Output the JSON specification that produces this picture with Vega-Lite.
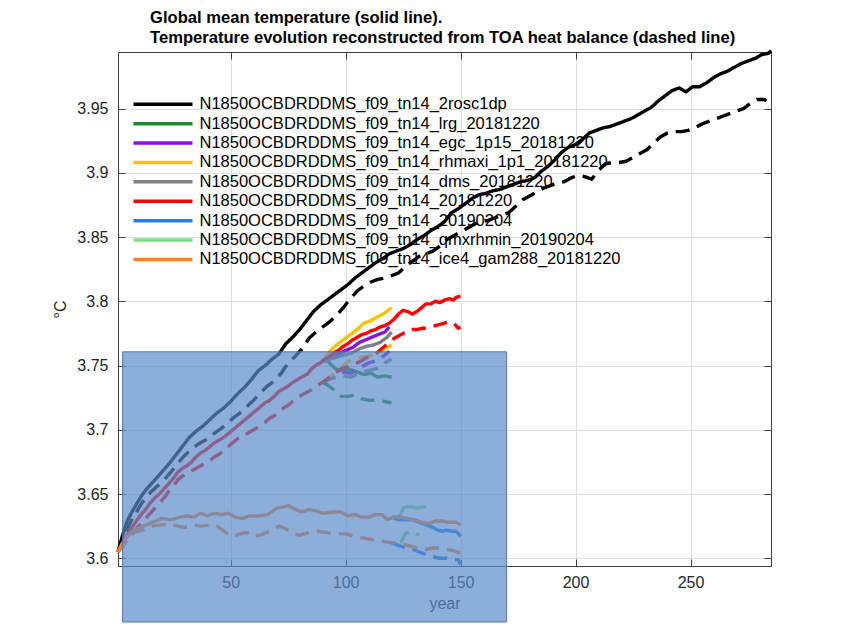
{
  "$schema": "https://vega.github.io/schema/vega-lite/v6.json",
  "autosize": {"type": "none"},
  "width": 653,
  "height": 514,
  "padding": {"left": 118, "top": 52, "right": 70, "bottom": 65},
  "background": "white",
  "title": {
    "text": ["Global mean temperature (solid line).", "Temperature evolution reconstructed from TOA heat balance (dashed line)"],
    "anchor": "start", "frame": "group", "dx": 32, "offset": 2, "fontSize": 16.6, "fontWeight": "bold",
    "font": "Liberation Sans", "color": "#000000", "lineHeight": 20
  },
  "config": {
    "view": {"stroke": null},
    "font": "Liberation Sans",
    "axis": {"labelFont": "Liberation Sans", "titleFont": "Liberation Sans"}
  },
  "datasets": {
    "box": [{"x0": 3.0, "x1": 170.0, "y0": 3.7607, "y1": 3.5504}]
  },
  "data": {"values": [
    {"series":"2rosc1dp","kind":"solid","year":1,"temp":3.605},{"series":"2rosc1dp","kind":"solid","year":3,"temp":3.618},{"series":"2rosc1dp","kind":"solid","year":5,"temp":3.629},{"series":"2rosc1dp","kind":"solid","year":7,"temp":3.636},{"series":"2rosc1dp","kind":"solid","year":9,"temp":3.642},{"series":"2rosc1dp","kind":"solid","year":11,"temp":3.648},{"series":"2rosc1dp","kind":"solid","year":13,"temp":3.653},{"series":"2rosc1dp","kind":"solid","year":15,"temp":3.657},{"series":"2rosc1dp","kind":"solid","year":17,"temp":3.661},{"series":"2rosc1dp","kind":"solid","year":20,"temp":3.667},{"series":"2rosc1dp","kind":"solid","year":23,"temp":3.673},{"series":"2rosc1dp","kind":"solid","year":26,"temp":3.68},{"series":"2rosc1dp","kind":"solid","year":29,"temp":3.687},{"series":"2rosc1dp","kind":"solid","year":32,"temp":3.694},{"series":"2rosc1dp","kind":"solid","year":35,"temp":3.699},{"series":"2rosc1dp","kind":"solid","year":38,"temp":3.703},{"series":"2rosc1dp","kind":"solid","year":41,"temp":3.708},{"series":"2rosc1dp","kind":"solid","year":44,"temp":3.713},{"series":"2rosc1dp","kind":"solid","year":47,"temp":3.717},{"series":"2rosc1dp","kind":"solid","year":50,"temp":3.722},{"series":"2rosc1dp","kind":"solid","year":53,"temp":3.728},{"series":"2rosc1dp","kind":"solid","year":56,"temp":3.733},{"series":"2rosc1dp","kind":"solid","year":59,"temp":3.739},{"series":"2rosc1dp","kind":"solid","year":62,"temp":3.746},{"series":"2rosc1dp","kind":"solid","year":65,"temp":3.75},{"series":"2rosc1dp","kind":"solid","year":68,"temp":3.755},{"series":"2rosc1dp","kind":"solid","year":71,"temp":3.759},{"series":"2rosc1dp","kind":"solid","year":74,"temp":3.767},{"series":"2rosc1dp","kind":"solid","year":77,"temp":3.772},{"series":"2rosc1dp","kind":"solid","year":80,"temp":3.778},{"series":"2rosc1dp","kind":"solid","year":83,"temp":3.785},{"series":"2rosc1dp","kind":"solid","year":86,"temp":3.792},{"series":"2rosc1dp","kind":"solid","year":89,"temp":3.797},{"series":"2rosc1dp","kind":"solid","year":92,"temp":3.801},{"series":"2rosc1dp","kind":"solid","year":95,"temp":3.805},{"series":"2rosc1dp","kind":"solid","year":98,"temp":3.809},{"series":"2rosc1dp","kind":"solid","year":101,"temp":3.813},{"series":"2rosc1dp","kind":"solid","year":104,"temp":3.818},{"series":"2rosc1dp","kind":"solid","year":107,"temp":3.822},{"series":"2rosc1dp","kind":"solid","year":110,"temp":3.826},{"series":"2rosc1dp","kind":"solid","year":113,"temp":3.83},{"series":"2rosc1dp","kind":"solid","year":116,"temp":3.833},{"series":"2rosc1dp","kind":"solid","year":119,"temp":3.837},{"series":"2rosc1dp","kind":"solid","year":122,"temp":3.839},{"series":"2rosc1dp","kind":"solid","year":125,"temp":3.841},{"series":"2rosc1dp","kind":"solid","year":128,"temp":3.844},{"series":"2rosc1dp","kind":"solid","year":131,"temp":3.848},{"series":"2rosc1dp","kind":"solid","year":134,"temp":3.851},{"series":"2rosc1dp","kind":"solid","year":137,"temp":3.855},{"series":"2rosc1dp","kind":"solid","year":140,"temp":3.858},{"series":"2rosc1dp","kind":"solid","year":143,"temp":3.862},{"series":"2rosc1dp","kind":"solid","year":146,"temp":3.869},{"series":"2rosc1dp","kind":"solid","year":149,"temp":3.872},{"series":"2rosc1dp","kind":"solid","year":152,"temp":3.876},{"series":"2rosc1dp","kind":"solid","year":155,"temp":3.88},{"series":"2rosc1dp","kind":"solid","year":158,"temp":3.883},{"series":"2rosc1dp","kind":"solid","year":161,"temp":3.884},{"series":"2rosc1dp","kind":"solid","year":164,"temp":3.886},{"series":"2rosc1dp","kind":"solid","year":167,"temp":3.887},{"series":"2rosc1dp","kind":"solid","year":170,"temp":3.889},{"series":"2rosc1dp","kind":"solid","year":173,"temp":3.891},{"series":"2rosc1dp","kind":"solid","year":176,"temp":3.893},{"series":"2rosc1dp","kind":"solid","year":179,"temp":3.894},{"series":"2rosc1dp","kind":"solid","year":182,"temp":3.896},{"series":"2rosc1dp","kind":"solid","year":185,"temp":3.901},{"series":"2rosc1dp","kind":"solid","year":188,"temp":3.905},{"series":"2rosc1dp","kind":"solid","year":191,"temp":3.91},{"series":"2rosc1dp","kind":"solid","year":194,"temp":3.916},{"series":"2rosc1dp","kind":"solid","year":197,"temp":3.92},{"series":"2rosc1dp","kind":"solid","year":200,"temp":3.922},{"series":"2rosc1dp","kind":"solid","year":203,"temp":3.926},{"series":"2rosc1dp","kind":"solid","year":206,"temp":3.931},{"series":"2rosc1dp","kind":"solid","year":209,"temp":3.933},{"series":"2rosc1dp","kind":"solid","year":212,"temp":3.935},{"series":"2rosc1dp","kind":"solid","year":215,"temp":3.936},{"series":"2rosc1dp","kind":"solid","year":218,"temp":3.938},{"series":"2rosc1dp","kind":"solid","year":221,"temp":3.94},{"series":"2rosc1dp","kind":"solid","year":224,"temp":3.942},{"series":"2rosc1dp","kind":"solid","year":227,"temp":3.945},{"series":"2rosc1dp","kind":"solid","year":230,"temp":3.948},{"series":"2rosc1dp","kind":"solid","year":233,"temp":3.951},{"series":"2rosc1dp","kind":"solid","year":236,"temp":3.956},{"series":"2rosc1dp","kind":"solid","year":239,"temp":3.96},{"series":"2rosc1dp","kind":"solid","year":242,"temp":3.964},{"series":"2rosc1dp","kind":"solid","year":245,"temp":3.966},{"series":"2rosc1dp","kind":"solid","year":248,"temp":3.963},{"series":"2rosc1dp","kind":"solid","year":251,"temp":3.967},{"series":"2rosc1dp","kind":"solid","year":254,"temp":3.967},{"series":"2rosc1dp","kind":"solid","year":257,"temp":3.97},{"series":"2rosc1dp","kind":"solid","year":260,"temp":3.974},{"series":"2rosc1dp","kind":"solid","year":263,"temp":3.977},{"series":"2rosc1dp","kind":"solid","year":266,"temp":3.979},{"series":"2rosc1dp","kind":"solid","year":269,"temp":3.982},{"series":"2rosc1dp","kind":"solid","year":272,"temp":3.985},{"series":"2rosc1dp","kind":"solid","year":275,"temp":3.987},{"series":"2rosc1dp","kind":"solid","year":278,"temp":3.989},{"series":"2rosc1dp","kind":"solid","year":281,"temp":3.992},{"series":"2rosc1dp","kind":"solid","year":284,"temp":3.993},{"series":"2rosc1dp","kind":"solid","year":285,"temp":3.995},
    {"series":"2rosc1dp","kind":"dashed","year":1,"temp":3.605},{"series":"2rosc1dp","kind":"dashed","year":3,"temp":3.614},{"series":"2rosc1dp","kind":"dashed","year":5,"temp":3.623},{"series":"2rosc1dp","kind":"dashed","year":7,"temp":3.63},{"series":"2rosc1dp","kind":"dashed","year":9,"temp":3.636},{"series":"2rosc1dp","kind":"dashed","year":11,"temp":3.642},{"series":"2rosc1dp","kind":"dashed","year":13,"temp":3.647},{"series":"2rosc1dp","kind":"dashed","year":15,"temp":3.651},{"series":"2rosc1dp","kind":"dashed","year":18,"temp":3.656},{"series":"2rosc1dp","kind":"dashed","year":21,"temp":3.661},{"series":"2rosc1dp","kind":"dashed","year":24,"temp":3.667},{"series":"2rosc1dp","kind":"dashed","year":27,"temp":3.674},{"series":"2rosc1dp","kind":"dashed","year":30,"temp":3.68},{"series":"2rosc1dp","kind":"dashed","year":33,"temp":3.685},{"series":"2rosc1dp","kind":"dashed","year":36,"temp":3.689},{"series":"2rosc1dp","kind":"dashed","year":39,"temp":3.692},{"series":"2rosc1dp","kind":"dashed","year":42,"temp":3.696},{"series":"2rosc1dp","kind":"dashed","year":45,"temp":3.7},{"series":"2rosc1dp","kind":"dashed","year":48,"temp":3.704},{"series":"2rosc1dp","kind":"dashed","year":51,"temp":3.709},{"series":"2rosc1dp","kind":"dashed","year":54,"temp":3.713},{"series":"2rosc1dp","kind":"dashed","year":57,"temp":3.718},{"series":"2rosc1dp","kind":"dashed","year":60,"temp":3.723},{"series":"2rosc1dp","kind":"dashed","year":63,"temp":3.729},{"series":"2rosc1dp","kind":"dashed","year":66,"temp":3.734},{"series":"2rosc1dp","kind":"dashed","year":69,"temp":3.738},{"series":"2rosc1dp","kind":"dashed","year":72,"temp":3.744},{"series":"2rosc1dp","kind":"dashed","year":75,"temp":3.752},{"series":"2rosc1dp","kind":"dashed","year":78,"temp":3.757},{"series":"2rosc1dp","kind":"dashed","year":81,"temp":3.763},{"series":"2rosc1dp","kind":"dashed","year":84,"temp":3.771},{"series":"2rosc1dp","kind":"dashed","year":87,"temp":3.776},{"series":"2rosc1dp","kind":"dashed","year":90,"temp":3.78},{"series":"2rosc1dp","kind":"dashed","year":93,"temp":3.784},{"series":"2rosc1dp","kind":"dashed","year":96,"temp":3.789},{"series":"2rosc1dp","kind":"dashed","year":99,"temp":3.795},{"series":"2rosc1dp","kind":"dashed","year":102,"temp":3.802},{"series":"2rosc1dp","kind":"dashed","year":105,"temp":3.808},{"series":"2rosc1dp","kind":"dashed","year":108,"temp":3.812},{"series":"2rosc1dp","kind":"dashed","year":111,"temp":3.815},{"series":"2rosc1dp","kind":"dashed","year":114,"temp":3.817},{"series":"2rosc1dp","kind":"dashed","year":117,"temp":3.818},{"series":"2rosc1dp","kind":"dashed","year":120,"temp":3.82},{"series":"2rosc1dp","kind":"dashed","year":123,"temp":3.822},{"series":"2rosc1dp","kind":"dashed","year":126,"temp":3.827},{"series":"2rosc1dp","kind":"dashed","year":129,"temp":3.831},{"series":"2rosc1dp","kind":"dashed","year":132,"temp":3.835},{"series":"2rosc1dp","kind":"dashed","year":135,"temp":3.837},{"series":"2rosc1dp","kind":"dashed","year":138,"temp":3.839},{"series":"2rosc1dp","kind":"dashed","year":141,"temp":3.843},{"series":"2rosc1dp","kind":"dashed","year":144,"temp":3.848},{"series":"2rosc1dp","kind":"dashed","year":147,"temp":3.851},{"series":"2rosc1dp","kind":"dashed","year":150,"temp":3.854},{"series":"2rosc1dp","kind":"dashed","year":153,"temp":3.857},{"series":"2rosc1dp","kind":"dashed","year":156,"temp":3.86},{"series":"2rosc1dp","kind":"dashed","year":159,"temp":3.862},{"series":"2rosc1dp","kind":"dashed","year":162,"temp":3.863},{"series":"2rosc1dp","kind":"dashed","year":165,"temp":3.865},{"series":"2rosc1dp","kind":"dashed","year":168,"temp":3.867},{"series":"2rosc1dp","kind":"dashed","year":171,"temp":3.869},{"series":"2rosc1dp","kind":"dashed","year":174,"temp":3.874},{"series":"2rosc1dp","kind":"dashed","year":177,"temp":3.879},{"series":"2rosc1dp","kind":"dashed","year":180,"temp":3.882},{"series":"2rosc1dp","kind":"dashed","year":183,"temp":3.885},{"series":"2rosc1dp","kind":"dashed","year":186,"temp":3.888},{"series":"2rosc1dp","kind":"dashed","year":189,"temp":3.89},{"series":"2rosc1dp","kind":"dashed","year":192,"temp":3.892},{"series":"2rosc1dp","kind":"dashed","year":195,"temp":3.893},{"series":"2rosc1dp","kind":"dashed","year":198,"temp":3.896},{"series":"2rosc1dp","kind":"dashed","year":201,"temp":3.898},{"series":"2rosc1dp","kind":"dashed","year":204,"temp":3.897},{"series":"2rosc1dp","kind":"dashed","year":207,"temp":3.895},{"series":"2rosc1dp","kind":"dashed","year":210,"temp":3.902},{"series":"2rosc1dp","kind":"dashed","year":213,"temp":3.907},{"series":"2rosc1dp","kind":"dashed","year":216,"temp":3.908},{"series":"2rosc1dp","kind":"dashed","year":219,"temp":3.908},{"series":"2rosc1dp","kind":"dashed","year":222,"temp":3.909},{"series":"2rosc1dp","kind":"dashed","year":225,"temp":3.912},{"series":"2rosc1dp","kind":"dashed","year":228,"temp":3.915},{"series":"2rosc1dp","kind":"dashed","year":231,"temp":3.918},{"series":"2rosc1dp","kind":"dashed","year":234,"temp":3.923},{"series":"2rosc1dp","kind":"dashed","year":237,"temp":3.928},{"series":"2rosc1dp","kind":"dashed","year":240,"temp":3.931},{"series":"2rosc1dp","kind":"dashed","year":243,"temp":3.932},{"series":"2rosc1dp","kind":"dashed","year":246,"temp":3.932},{"series":"2rosc1dp","kind":"dashed","year":249,"temp":3.933},{"series":"2rosc1dp","kind":"dashed","year":252,"temp":3.935},{"series":"2rosc1dp","kind":"dashed","year":255,"temp":3.938},{"series":"2rosc1dp","kind":"dashed","year":258,"temp":3.94},{"series":"2rosc1dp","kind":"dashed","year":261,"temp":3.942},{"series":"2rosc1dp","kind":"dashed","year":264,"temp":3.944},{"series":"2rosc1dp","kind":"dashed","year":267,"temp":3.946},{"series":"2rosc1dp","kind":"dashed","year":270,"temp":3.948},{"series":"2rosc1dp","kind":"dashed","year":273,"temp":3.95},{"series":"2rosc1dp","kind":"dashed","year":276,"temp":3.954},{"series":"2rosc1dp","kind":"dashed","year":279,"temp":3.957},{"series":"2rosc1dp","kind":"dashed","year":282,"temp":3.957},{"series":"2rosc1dp","kind":"dashed","year":283,"temp":3.956},
    {"series":"lrg_20181220","kind":"solid","year":90,"temp":3.753},{"series":"lrg_20181220","kind":"solid","year":92,"temp":3.754},{"series":"lrg_20181220","kind":"solid","year":94,"temp":3.75},{"series":"lrg_20181220","kind":"solid","year":96,"temp":3.747},{"series":"lrg_20181220","kind":"solid","year":99,"temp":3.746},{"series":"lrg_20181220","kind":"solid","year":102,"temp":3.747},{"series":"lrg_20181220","kind":"solid","year":105,"temp":3.745},{"series":"lrg_20181220","kind":"solid","year":108,"temp":3.743},{"series":"lrg_20181220","kind":"solid","year":111,"temp":3.744},{"series":"lrg_20181220","kind":"solid","year":114,"temp":3.741},{"series":"lrg_20181220","kind":"solid","year":117,"temp":3.742},{"series":"lrg_20181220","kind":"solid","year":120,"temp":3.741},
    {"series":"lrg_20181220","kind":"dashed","year":90,"temp":3.737},{"series":"lrg_20181220","kind":"dashed","year":92,"temp":3.735},{"series":"lrg_20181220","kind":"dashed","year":95,"temp":3.731},{"series":"lrg_20181220","kind":"dashed","year":98,"temp":3.726},{"series":"lrg_20181220","kind":"dashed","year":101,"temp":3.726},{"series":"lrg_20181220","kind":"dashed","year":104,"temp":3.727},{"series":"lrg_20181220","kind":"dashed","year":107,"temp":3.724},{"series":"lrg_20181220","kind":"dashed","year":110,"temp":3.723},{"series":"lrg_20181220","kind":"dashed","year":114,"temp":3.723},{"series":"lrg_20181220","kind":"dashed","year":117,"temp":3.722},{"series":"lrg_20181220","kind":"dashed","year":120,"temp":3.721},
    {"series":"egc_1p15_20181220","kind":"solid","year":90,"temp":3.753},{"series":"egc_1p15_20181220","kind":"solid","year":95,"temp":3.757},{"series":"egc_1p15_20181220","kind":"solid","year":99,"temp":3.761},{"series":"egc_1p15_20181220","kind":"solid","year":103,"temp":3.764},{"series":"egc_1p15_20181220","kind":"solid","year":106,"temp":3.768},{"series":"egc_1p15_20181220","kind":"solid","year":110,"temp":3.771},{"series":"egc_1p15_20181220","kind":"solid","year":114,"temp":3.774},{"series":"egc_1p15_20181220","kind":"solid","year":117,"temp":3.776},{"series":"egc_1p15_20181220","kind":"solid","year":119,"temp":3.78},
    {"series":"egc_1p15_20181220","kind":"dashed","year":90,"temp":3.737},{"series":"egc_1p15_20181220","kind":"dashed","year":94,"temp":3.741},{"series":"egc_1p15_20181220","kind":"dashed","year":98,"temp":3.745},{"series":"egc_1p15_20181220","kind":"dashed","year":102,"temp":3.744},{"series":"egc_1p15_20181220","kind":"dashed","year":106,"temp":3.748},{"series":"egc_1p15_20181220","kind":"dashed","year":110,"temp":3.752},{"series":"egc_1p15_20181220","kind":"dashed","year":114,"temp":3.754},{"series":"egc_1p15_20181220","kind":"dashed","year":117,"temp":3.758},{"series":"egc_1p15_20181220","kind":"dashed","year":119,"temp":3.761},
    {"series":"rhmaxi_1p1_20181220","kind":"solid","year":90,"temp":3.753},{"series":"rhmaxi_1p1_20181220","kind":"solid","year":93,"temp":3.761},{"series":"rhmaxi_1p1_20181220","kind":"solid","year":96,"temp":3.766},{"series":"rhmaxi_1p1_20181220","kind":"solid","year":99,"temp":3.77},{"series":"rhmaxi_1p1_20181220","kind":"solid","year":102,"temp":3.774},{"series":"rhmaxi_1p1_20181220","kind":"solid","year":105,"temp":3.778},{"series":"rhmaxi_1p1_20181220","kind":"solid","year":108,"temp":3.783},{"series":"rhmaxi_1p1_20181220","kind":"solid","year":111,"temp":3.785},{"series":"rhmaxi_1p1_20181220","kind":"solid","year":114,"temp":3.788},{"series":"rhmaxi_1p1_20181220","kind":"solid","year":117,"temp":3.791},{"series":"rhmaxi_1p1_20181220","kind":"solid","year":120,"temp":3.795},
    {"series":"rhmaxi_1p1_20181220","kind":"dashed","year":90,"temp":3.737},{"series":"rhmaxi_1p1_20181220","kind":"dashed","year":94,"temp":3.742},{"series":"rhmaxi_1p1_20181220","kind":"dashed","year":98,"temp":3.748},{"series":"rhmaxi_1p1_20181220","kind":"dashed","year":101,"temp":3.753},{"series":"rhmaxi_1p1_20181220","kind":"dashed","year":105,"temp":3.756},{"series":"rhmaxi_1p1_20181220","kind":"dashed","year":109,"temp":3.757},{"series":"rhmaxi_1p1_20181220","kind":"dashed","year":113,"temp":3.759},{"series":"rhmaxi_1p1_20181220","kind":"dashed","year":117,"temp":3.763},{"series":"rhmaxi_1p1_20181220","kind":"dashed","year":120,"temp":3.766},
    {"series":"dms_20181220","kind":"solid","year":90,"temp":3.753},{"series":"dms_20181220","kind":"solid","year":95,"temp":3.756},{"series":"dms_20181220","kind":"solid","year":99,"temp":3.758},{"series":"dms_20181220","kind":"solid","year":103,"temp":3.76},{"series":"dms_20181220","kind":"solid","year":106,"temp":3.763},{"series":"dms_20181220","kind":"solid","year":109,"temp":3.765},{"series":"dms_20181220","kind":"solid","year":112,"temp":3.766},{"series":"dms_20181220","kind":"solid","year":115,"temp":3.768},{"series":"dms_20181220","kind":"solid","year":118,"temp":3.772},{"series":"dms_20181220","kind":"solid","year":120,"temp":3.776},
    {"series":"dms_20181220","kind":"dashed","year":90,"temp":3.737},{"series":"dms_20181220","kind":"dashed","year":94,"temp":3.74},{"series":"dms_20181220","kind":"dashed","year":98,"temp":3.742},{"series":"dms_20181220","kind":"dashed","year":102,"temp":3.741},{"series":"dms_20181220","kind":"dashed","year":106,"temp":3.744},{"series":"dms_20181220","kind":"dashed","year":110,"temp":3.746},{"series":"dms_20181220","kind":"dashed","year":114,"temp":3.748},{"series":"dms_20181220","kind":"dashed","year":117,"temp":3.752},{"series":"dms_20181220","kind":"dashed","year":120,"temp":3.755},
    {"series":"20181220","kind":"solid","year":1,"temp":3.605},{"series":"20181220","kind":"solid","year":3,"temp":3.612},{"series":"20181220","kind":"solid","year":5,"temp":3.618},{"series":"20181220","kind":"solid","year":7,"temp":3.624},{"series":"20181220","kind":"solid","year":9,"temp":3.629},{"series":"20181220","kind":"solid","year":11,"temp":3.634},{"series":"20181220","kind":"solid","year":13,"temp":3.638},{"series":"20181220","kind":"solid","year":15,"temp":3.643},{"series":"20181220","kind":"solid","year":17,"temp":3.647},{"series":"20181220","kind":"solid","year":19,"temp":3.65},{"series":"20181220","kind":"solid","year":21,"temp":3.654},{"series":"20181220","kind":"solid","year":23,"temp":3.658},{"series":"20181220","kind":"solid","year":25,"temp":3.662},{"series":"20181220","kind":"solid","year":27,"temp":3.667},{"series":"20181220","kind":"solid","year":29,"temp":3.67},{"series":"20181220","kind":"solid","year":31,"temp":3.672},{"series":"20181220","kind":"solid","year":33,"temp":3.675},{"series":"20181220","kind":"solid","year":35,"temp":3.679},{"series":"20181220","kind":"solid","year":37,"temp":3.682},{"series":"20181220","kind":"solid","year":39,"temp":3.684},{"series":"20181220","kind":"solid","year":41,"temp":3.687},{"series":"20181220","kind":"solid","year":43,"temp":3.69},{"series":"20181220","kind":"solid","year":45,"temp":3.692},{"series":"20181220","kind":"solid","year":47,"temp":3.694},{"series":"20181220","kind":"solid","year":49,"temp":3.697},{"series":"20181220","kind":"solid","year":51,"temp":3.7},{"series":"20181220","kind":"solid","year":53,"temp":3.703},{"series":"20181220","kind":"solid","year":55,"temp":3.706},{"series":"20181220","kind":"solid","year":57,"temp":3.709},{"series":"20181220","kind":"solid","year":59,"temp":3.712},{"series":"20181220","kind":"solid","year":61,"temp":3.715},{"series":"20181220","kind":"solid","year":63,"temp":3.718},{"series":"20181220","kind":"solid","year":65,"temp":3.721},{"series":"20181220","kind":"solid","year":67,"temp":3.723},{"series":"20181220","kind":"solid","year":69,"temp":3.726},{"series":"20181220","kind":"solid","year":71,"temp":3.73},{"series":"20181220","kind":"solid","year":73,"temp":3.732},{"series":"20181220","kind":"solid","year":75,"temp":3.734},{"series":"20181220","kind":"solid","year":77,"temp":3.737},{"series":"20181220","kind":"solid","year":79,"temp":3.739},{"series":"20181220","kind":"solid","year":81,"temp":3.741},{"series":"20181220","kind":"solid","year":83,"temp":3.743},{"series":"20181220","kind":"solid","year":85,"temp":3.747},{"series":"20181220","kind":"solid","year":87,"temp":3.75},{"series":"20181220","kind":"solid","year":89,"temp":3.752},{"series":"20181220","kind":"solid","year":91,"temp":3.755},{"series":"20181220","kind":"solid","year":93,"temp":3.757},{"series":"20181220","kind":"solid","year":95,"temp":3.76},{"series":"20181220","kind":"solid","year":97,"temp":3.762},{"series":"20181220","kind":"solid","year":99,"temp":3.765},{"series":"20181220","kind":"solid","year":101,"temp":3.767},{"series":"20181220","kind":"solid","year":103,"temp":3.77},{"series":"20181220","kind":"solid","year":105,"temp":3.772},{"series":"20181220","kind":"solid","year":107,"temp":3.774},{"series":"20181220","kind":"solid","year":109,"temp":3.775},{"series":"20181220","kind":"solid","year":111,"temp":3.777},{"series":"20181220","kind":"solid","year":113,"temp":3.778},{"series":"20181220","kind":"solid","year":115,"temp":3.78},{"series":"20181220","kind":"solid","year":117,"temp":3.781},{"series":"20181220","kind":"solid","year":119,"temp":3.783},{"series":"20181220","kind":"solid","year":121,"temp":3.786},{"series":"20181220","kind":"solid","year":123,"temp":3.79},{"series":"20181220","kind":"solid","year":125,"temp":3.793},{"series":"20181220","kind":"solid","year":127,"temp":3.792},{"series":"20181220","kind":"solid","year":129,"temp":3.79},{"series":"20181220","kind":"solid","year":131,"temp":3.792},{"series":"20181220","kind":"solid","year":133,"temp":3.795},{"series":"20181220","kind":"solid","year":135,"temp":3.798},{"series":"20181220","kind":"solid","year":137,"temp":3.798},{"series":"20181220","kind":"solid","year":139,"temp":3.8},{"series":"20181220","kind":"solid","year":141,"temp":3.799},{"series":"20181220","kind":"solid","year":143,"temp":3.801},{"series":"20181220","kind":"solid","year":145,"temp":3.802},{"series":"20181220","kind":"solid","year":147,"temp":3.801},{"series":"20181220","kind":"solid","year":148,"temp":3.803},{"series":"20181220","kind":"solid","year":150,"temp":3.804},
    {"series":"20181220","kind":"dashed","year":1,"temp":3.605},{"series":"20181220","kind":"dashed","year":3,"temp":3.61},{"series":"20181220","kind":"dashed","year":5,"temp":3.614},{"series":"20181220","kind":"dashed","year":7,"temp":3.619},{"series":"20181220","kind":"dashed","year":9,"temp":3.623},{"series":"20181220","kind":"dashed","year":11,"temp":3.627},{"series":"20181220","kind":"dashed","year":13,"temp":3.631},{"series":"20181220","kind":"dashed","year":15,"temp":3.635},{"series":"20181220","kind":"dashed","year":17,"temp":3.639},{"series":"20181220","kind":"dashed","year":19,"temp":3.643},{"series":"20181220","kind":"dashed","year":21,"temp":3.647},{"series":"20181220","kind":"dashed","year":23,"temp":3.652},{"series":"20181220","kind":"dashed","year":25,"temp":3.656},{"series":"20181220","kind":"dashed","year":27,"temp":3.661},{"series":"20181220","kind":"dashed","year":29,"temp":3.664},{"series":"20181220","kind":"dashed","year":31,"temp":3.666},{"series":"20181220","kind":"dashed","year":33,"temp":3.668},{"series":"20181220","kind":"dashed","year":35,"temp":3.67},{"series":"20181220","kind":"dashed","year":37,"temp":3.672},{"series":"20181220","kind":"dashed","year":39,"temp":3.674},{"series":"20181220","kind":"dashed","year":41,"temp":3.676},{"series":"20181220","kind":"dashed","year":43,"temp":3.679},{"series":"20181220","kind":"dashed","year":45,"temp":3.681},{"series":"20181220","kind":"dashed","year":47,"temp":3.684},{"series":"20181220","kind":"dashed","year":49,"temp":3.687},{"series":"20181220","kind":"dashed","year":51,"temp":3.69},{"series":"20181220","kind":"dashed","year":53,"temp":3.693},{"series":"20181220","kind":"dashed","year":55,"temp":3.695},{"series":"20181220","kind":"dashed","year":57,"temp":3.697},{"series":"20181220","kind":"dashed","year":59,"temp":3.699},{"series":"20181220","kind":"dashed","year":61,"temp":3.701},{"series":"20181220","kind":"dashed","year":63,"temp":3.704},{"series":"20181220","kind":"dashed","year":65,"temp":3.706},{"series":"20181220","kind":"dashed","year":67,"temp":3.709},{"series":"20181220","kind":"dashed","year":69,"temp":3.711},{"series":"20181220","kind":"dashed","year":71,"temp":3.714},{"series":"20181220","kind":"dashed","year":73,"temp":3.717},{"series":"20181220","kind":"dashed","year":75,"temp":3.719},{"series":"20181220","kind":"dashed","year":77,"temp":3.722},{"series":"20181220","kind":"dashed","year":79,"temp":3.725},{"series":"20181220","kind":"dashed","year":81,"temp":3.727},{"series":"20181220","kind":"dashed","year":83,"temp":3.729},{"series":"20181220","kind":"dashed","year":85,"temp":3.731},{"series":"20181220","kind":"dashed","year":87,"temp":3.733},{"series":"20181220","kind":"dashed","year":89,"temp":3.736},{"series":"20181220","kind":"dashed","year":91,"temp":3.738},{"series":"20181220","kind":"dashed","year":93,"temp":3.741},{"series":"20181220","kind":"dashed","year":95,"temp":3.744},{"series":"20181220","kind":"dashed","year":97,"temp":3.746},{"series":"20181220","kind":"dashed","year":99,"temp":3.748},{"series":"20181220","kind":"dashed","year":101,"temp":3.749},{"series":"20181220","kind":"dashed","year":103,"temp":3.751},{"series":"20181220","kind":"dashed","year":105,"temp":3.752},{"series":"20181220","kind":"dashed","year":107,"temp":3.754},{"series":"20181220","kind":"dashed","year":109,"temp":3.756},{"series":"20181220","kind":"dashed","year":111,"temp":3.757},{"series":"20181220","kind":"dashed","year":113,"temp":3.759},{"series":"20181220","kind":"dashed","year":115,"temp":3.762},{"series":"20181220","kind":"dashed","year":117,"temp":3.765},{"series":"20181220","kind":"dashed","year":119,"temp":3.768},{"series":"20181220","kind":"dashed","year":121,"temp":3.771},{"series":"20181220","kind":"dashed","year":123,"temp":3.773},{"series":"20181220","kind":"dashed","year":125,"temp":3.775},{"series":"20181220","kind":"dashed","year":127,"temp":3.776},{"series":"20181220","kind":"dashed","year":129,"temp":3.778},{"series":"20181220","kind":"dashed","year":131,"temp":3.778},{"series":"20181220","kind":"dashed","year":133,"temp":3.779},{"series":"20181220","kind":"dashed","year":135,"temp":3.779},{"series":"20181220","kind":"dashed","year":137,"temp":3.78},{"series":"20181220","kind":"dashed","year":139,"temp":3.781},{"series":"20181220","kind":"dashed","year":141,"temp":3.782},{"series":"20181220","kind":"dashed","year":143,"temp":3.783},{"series":"20181220","kind":"dashed","year":145,"temp":3.784},{"series":"20181220","kind":"dashed","year":147,"temp":3.783},{"series":"20181220","kind":"dashed","year":149,"temp":3.779},{"series":"20181220","kind":"dashed","year":150,"temp":3.78},
    {"series":"20190204","kind":"solid","year":120,"temp":3.632},{"series":"20190204","kind":"solid","year":123,"temp":3.63},{"series":"20190204","kind":"solid","year":126,"temp":3.63},{"series":"20190204","kind":"solid","year":129,"temp":3.63},{"series":"20190204","kind":"solid","year":132,"temp":3.628},{"series":"20190204","kind":"solid","year":135,"temp":3.626},{"series":"20190204","kind":"solid","year":138,"temp":3.624},{"series":"20190204","kind":"solid","year":140,"temp":3.622},{"series":"20190204","kind":"solid","year":142,"temp":3.621},{"series":"20190204","kind":"solid","year":144,"temp":3.622},{"series":"20190204","kind":"solid","year":146,"temp":3.621},{"series":"20190204","kind":"solid","year":148,"temp":3.621},{"series":"20190204","kind":"solid","year":150,"temp":3.617},
    {"series":"20190204","kind":"dashed","year":120,"temp":3.612},{"series":"20190204","kind":"dashed","year":123,"temp":3.61},{"series":"20190204","kind":"dashed","year":126,"temp":3.608},{"series":"20190204","kind":"dashed","year":129,"temp":3.607},{"series":"20190204","kind":"dashed","year":132,"temp":3.605},{"series":"20190204","kind":"dashed","year":135,"temp":3.603},{"series":"20190204","kind":"dashed","year":138,"temp":3.601},{"series":"20190204","kind":"dashed","year":141,"temp":3.6},{"series":"20190204","kind":"dashed","year":144,"temp":3.6},{"series":"20190204","kind":"dashed","year":147,"temp":3.599},{"series":"20190204","kind":"dashed","year":149,"temp":3.599},{"series":"20190204","kind":"dashed","year":150,"temp":3.595},
    {"series":"qmxrhmin_20190204","kind":"solid","year":122,"temp":3.632},{"series":"qmxrhmin_20190204","kind":"solid","year":124,"temp":3.634},{"series":"qmxrhmin_20190204","kind":"solid","year":125,"temp":3.639},{"series":"qmxrhmin_20190204","kind":"solid","year":127,"temp":3.64},{"series":"qmxrhmin_20190204","kind":"solid","year":129,"temp":3.64},{"series":"qmxrhmin_20190204","kind":"solid","year":131,"temp":3.639},{"series":"qmxrhmin_20190204","kind":"solid","year":133,"temp":3.64},{"series":"qmxrhmin_20190204","kind":"solid","year":135,"temp":3.64},
    {"series":"qmxrhmin_20190204","kind":"dashed","year":124,"temp":3.612},{"series":"qmxrhmin_20190204","kind":"dashed","year":126,"temp":3.619},{"series":"qmxrhmin_20190204","kind":"dashed","year":128,"temp":3.621},{"series":"qmxrhmin_20190204","kind":"dashed","year":130,"temp":3.62},{"series":"qmxrhmin_20190204","kind":"dashed","year":132,"temp":3.618},
    {"series":"ice4_gam288_20181220","kind":"solid","year":1,"temp":3.605},{"series":"ice4_gam288_20181220","kind":"solid","year":3,"temp":3.612},{"series":"ice4_gam288_20181220","kind":"solid","year":5,"temp":3.617},{"series":"ice4_gam288_20181220","kind":"solid","year":8,"temp":3.622},{"series":"ice4_gam288_20181220","kind":"solid","year":12,"temp":3.625},{"series":"ice4_gam288_20181220","kind":"solid","year":16,"temp":3.628},{"series":"ice4_gam288_20181220","kind":"solid","year":20,"temp":3.631},{"series":"ice4_gam288_20181220","kind":"solid","year":24,"temp":3.63},{"series":"ice4_gam288_20181220","kind":"solid","year":28,"temp":3.632},{"series":"ice4_gam288_20181220","kind":"solid","year":31,"temp":3.633},{"series":"ice4_gam288_20181220","kind":"solid","year":34,"temp":3.632},{"series":"ice4_gam288_20181220","kind":"solid","year":37,"temp":3.635},{"series":"ice4_gam288_20181220","kind":"solid","year":40,"temp":3.633},{"series":"ice4_gam288_20181220","kind":"solid","year":43,"temp":3.635},{"series":"ice4_gam288_20181220","kind":"solid","year":46,"temp":3.634},{"series":"ice4_gam288_20181220","kind":"solid","year":49,"temp":3.635},{"series":"ice4_gam288_20181220","kind":"solid","year":52,"temp":3.632},{"series":"ice4_gam288_20181220","kind":"solid","year":55,"temp":3.631},{"series":"ice4_gam288_20181220","kind":"solid","year":58,"temp":3.633},{"series":"ice4_gam288_20181220","kind":"solid","year":62,"temp":3.633},{"series":"ice4_gam288_20181220","kind":"solid","year":66,"temp":3.634},{"series":"ice4_gam288_20181220","kind":"solid","year":70,"temp":3.639},{"series":"ice4_gam288_20181220","kind":"solid","year":73,"temp":3.64},{"series":"ice4_gam288_20181220","kind":"solid","year":75,"temp":3.641},{"series":"ice4_gam288_20181220","kind":"solid","year":78,"temp":3.638},{"series":"ice4_gam288_20181220","kind":"solid","year":81,"temp":3.636},{"series":"ice4_gam288_20181220","kind":"solid","year":84,"temp":3.638},{"series":"ice4_gam288_20181220","kind":"solid","year":87,"temp":3.637},{"series":"ice4_gam288_20181220","kind":"solid","year":90,"temp":3.635},{"series":"ice4_gam288_20181220","kind":"solid","year":94,"temp":3.636},{"series":"ice4_gam288_20181220","kind":"solid","year":98,"temp":3.636},{"series":"ice4_gam288_20181220","kind":"solid","year":101,"temp":3.633},{"series":"ice4_gam288_20181220","kind":"solid","year":104,"temp":3.634},{"series":"ice4_gam288_20181220","kind":"solid","year":107,"temp":3.632},{"series":"ice4_gam288_20181220","kind":"solid","year":110,"temp":3.632},{"series":"ice4_gam288_20181220","kind":"solid","year":113,"temp":3.634},{"series":"ice4_gam288_20181220","kind":"solid","year":116,"temp":3.634},{"series":"ice4_gam288_20181220","kind":"solid","year":118,"temp":3.63},{"series":"ice4_gam288_20181220","kind":"solid","year":121,"temp":3.632},{"series":"ice4_gam288_20181220","kind":"solid","year":124,"temp":3.632},{"series":"ice4_gam288_20181220","kind":"solid","year":127,"temp":3.631},{"series":"ice4_gam288_20181220","kind":"solid","year":130,"temp":3.63},{"series":"ice4_gam288_20181220","kind":"solid","year":133,"temp":3.628},{"series":"ice4_gam288_20181220","kind":"solid","year":136,"temp":3.627},{"series":"ice4_gam288_20181220","kind":"solid","year":139,"temp":3.629},{"series":"ice4_gam288_20181220","kind":"solid","year":142,"temp":3.629},{"series":"ice4_gam288_20181220","kind":"solid","year":145,"temp":3.628},{"series":"ice4_gam288_20181220","kind":"solid","year":148,"temp":3.628},{"series":"ice4_gam288_20181220","kind":"solid","year":150,"temp":3.626},
    {"series":"ice4_gam288_20181220","kind":"dashed","year":1,"temp":3.605},{"series":"ice4_gam288_20181220","kind":"dashed","year":4,"temp":3.612},{"series":"ice4_gam288_20181220","kind":"dashed","year":8,"temp":3.62},{"series":"ice4_gam288_20181220","kind":"dashed","year":12,"temp":3.622},{"series":"ice4_gam288_20181220","kind":"dashed","year":16,"temp":3.625},{"series":"ice4_gam288_20181220","kind":"dashed","year":20,"temp":3.626},{"series":"ice4_gam288_20181220","kind":"dashed","year":23,"temp":3.627},{"series":"ice4_gam288_20181220","kind":"dashed","year":27,"temp":3.625},{"series":"ice4_gam288_20181220","kind":"dashed","year":30,"temp":3.624},{"series":"ice4_gam288_20181220","kind":"dashed","year":34,"temp":3.626},{"series":"ice4_gam288_20181220","kind":"dashed","year":37,"temp":3.625},{"series":"ice4_gam288_20181220","kind":"dashed","year":41,"temp":3.626},{"series":"ice4_gam288_20181220","kind":"dashed","year":44,"temp":3.625},{"series":"ice4_gam288_20181220","kind":"dashed","year":48,"temp":3.62},{"series":"ice4_gam288_20181220","kind":"dashed","year":51,"temp":3.617},{"series":"ice4_gam288_20181220","kind":"dashed","year":54,"temp":3.619},{"series":"ice4_gam288_20181220","kind":"dashed","year":57,"temp":3.62},{"series":"ice4_gam288_20181220","kind":"dashed","year":60,"temp":3.617},{"series":"ice4_gam288_20181220","kind":"dashed","year":63,"temp":3.618},{"series":"ice4_gam288_20181220","kind":"dashed","year":67,"temp":3.621},{"series":"ice4_gam288_20181220","kind":"dashed","year":71,"temp":3.625},{"series":"ice4_gam288_20181220","kind":"dashed","year":74,"temp":3.623},{"series":"ice4_gam288_20181220","kind":"dashed","year":77,"temp":3.619},{"series":"ice4_gam288_20181220","kind":"dashed","year":80,"temp":3.618},{"series":"ice4_gam288_20181220","kind":"dashed","year":84,"temp":3.62},{"series":"ice4_gam288_20181220","kind":"dashed","year":88,"temp":3.621},{"series":"ice4_gam288_20181220","kind":"dashed","year":92,"temp":3.62},{"series":"ice4_gam288_20181220","kind":"dashed","year":96,"temp":3.619},{"series":"ice4_gam288_20181220","kind":"dashed","year":100,"temp":3.619},{"series":"ice4_gam288_20181220","kind":"dashed","year":104,"temp":3.617},{"series":"ice4_gam288_20181220","kind":"dashed","year":107,"temp":3.616},{"series":"ice4_gam288_20181220","kind":"dashed","year":110,"temp":3.615},{"series":"ice4_gam288_20181220","kind":"dashed","year":114,"temp":3.614},{"series":"ice4_gam288_20181220","kind":"dashed","year":117,"temp":3.613},{"series":"ice4_gam288_20181220","kind":"dashed","year":121,"temp":3.612},{"series":"ice4_gam288_20181220","kind":"dashed","year":125,"temp":3.611},{"series":"ice4_gam288_20181220","kind":"dashed","year":129,"temp":3.609},{"series":"ice4_gam288_20181220","kind":"dashed","year":132,"temp":3.608},{"series":"ice4_gam288_20181220","kind":"dashed","year":135,"temp":3.607},{"series":"ice4_gam288_20181220","kind":"dashed","year":138,"temp":3.608},{"series":"ice4_gam288_20181220","kind":"dashed","year":141,"temp":3.608},{"series":"ice4_gam288_20181220","kind":"dashed","year":144,"temp":3.607},{"series":"ice4_gam288_20181220","kind":"dashed","year":147,"temp":3.606},{"series":"ice4_gam288_20181220","kind":"dashed","year":150,"temp":3.604}
  ]},
  "layer": [
    {
      "mark": {"type": "line", "strokeWidth": 3.4, "strokeCap": "butt", "strokeJoin": "round"},
      "encoding": {
        "x": {"field": "year", "type": "quantitative",
          "scale": {"domain": [1, 285], "nice": false, "zero": false},
          "axis": {"orient": "bottom", "values": [50, 100, 150, 200, 250], "format": "d",
            "grid": true, "gridColor": "#dedede", "gridWidth": 1,
            "domainColor": "#404040", "tickColor": "#404040", "tickSize": -7,
            "labelFontSize": 16, "labelColor": "#262626", "labelPadding": 15,
            "title": "year", "titleFontSize": 16, "titleFontWeight": "normal", "titleColor": "#262626", "titlePadding": 5}},
        "y": {"field": "temp", "type": "quantitative",
          "scale": {"domain": [3.594, 3.994], "nice": false, "zero": false},
          "axis": {"orient": "left", "values": [3.6, 3.65, 3.7, 3.75, 3.8, 3.85, 3.9, 3.95], "format": "~g",
            "grid": true, "gridColor": "#dedede", "gridWidth": 1,
            "domainColor": "#404040", "tickColor": "#404040", "tickSize": -7,
            "labelFontSize": 16, "labelColor": "#262626", "labelPadding": 17,
            "title": "°C", "titleFontSize": 16, "titleFontWeight": "normal", "titleColor": "#262626", "titlePadding": 8}},
        "color": {"field": "series", "type": "nominal",
          "scale": {
            "domain": ["2rosc1dp", "lrg_20181220", "egc_1p15_20181220", "rhmaxi_1p1_20181220", "dms_20181220", "20181220", "20190204", "qmxrhmin_20190204", "ice4_gam288_20181220"],
            "range": ["#000000", "#1e8a2a", "#8a10e0", "#ffc000", "#808080", "#ff0000", "#1a80f0", "#80e080", "#ff7f2a"]},
          "legend": {"orient": "none", "legendX": 13.5, "legendY": 44, "title": null,
            "symbolType": "stroke", "symbolSize": 3481, "symbolStrokeWidth": 3.5,
            "clipHeight": 16.5,
            "labelFontSize": 16.5, "labelFont": "Liberation Sans", "labelColor": "#000000",
            "labelLimit": 0, "labelOffset": 5, "rowPadding": 2.4, "padding": 0,
            "labelExpr": "'N1850OCBDRDDMS_f09_tn14_' + datum.label"}},
        "strokeDash": {"field": "kind", "type": "nominal",
          "scale": {"domain": ["solid", "dashed"], "range": [[1, 0], [14, 8]]},
          "legend": null}
      }
    },
    {
      "data": {"name": "box"},
      "mark": {"type": "rect", "fill": "#5b8bc9", "fillOpacity": 0.7, "stroke": "#3f70b0", "strokeWidth": 1, "strokeOpacity": 0.9},
      "encoding": {
        "x": {"field": "x0", "type": "quantitative",
          "scale": {"domain": [1, 285], "nice": false, "zero": false},
          "axis": {"orient": "top", "values": [50, 100, 150, 200, 250], "labels": false, "title": null, "grid": false,
            "domainColor": "#404040", "tickColor": "#404040", "tickSize": -7}},
        "x2": {"field": "x1"},
        "y": {"field": "y0", "type": "quantitative",
          "scale": {"domain": [3.594, 3.994], "nice": false, "zero": false},
          "axis": {"orient": "right", "values": [3.6, 3.65, 3.7, 3.75, 3.8, 3.85, 3.9, 3.95], "labels": false, "title": null, "grid": false,
            "domainColor": "#404040", "tickColor": "#404040", "tickSize": -7}},
        "y2": {"field": "y1"}
      }
    }
  ],
  "resolve": {"axis": {"x": "independent", "y": "independent"}}
}
